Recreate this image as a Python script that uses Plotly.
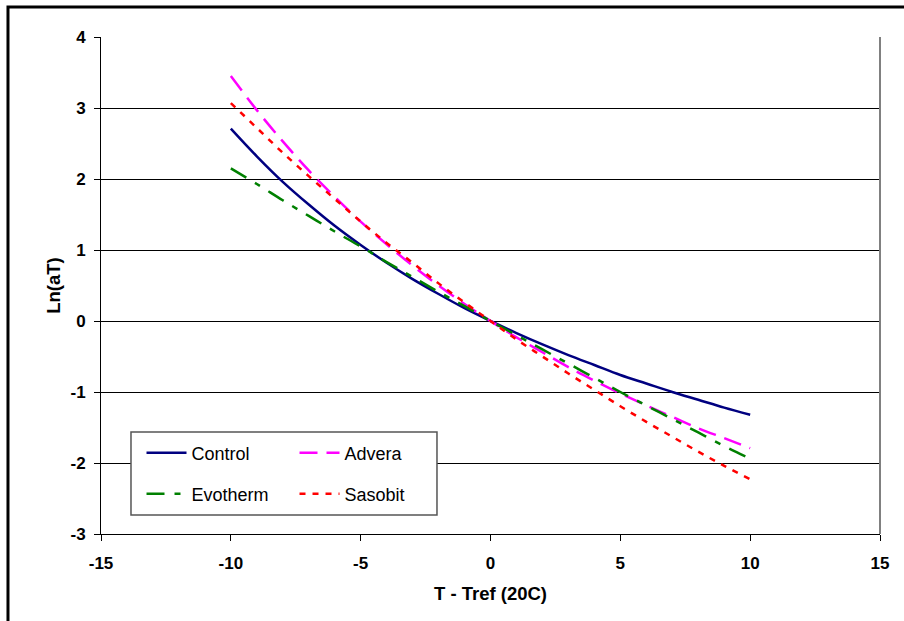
import plotly.graph_objects as go

# T - Tref (20C)
x_vals = [-10, -9, -8, -7, -6, -5, -4, -3, -2, -1, 0, 1, 2, 3, 4, 5, 6, 7, 8, 9, 10]

control = [2.71, 2.32, 1.96, 1.64, 1.34, 1.07, 0.82, 0.59, 0.38, 0.18, 0.0,
           -0.17, -0.33, -0.48, -0.62, -0.76, -0.88, -1.00, -1.11, -1.22, -1.32]
advera = [3.45, 2.97, 2.53, 2.12, 1.75, 1.40, 1.08, 0.78, 0.50, 0.24, 0.0,
          -0.23, -0.44, -0.65, -0.84, -1.02, -1.19, -1.35, -1.51, -1.65, -1.79]
evotherm = [2.15, 1.93, 1.70, 1.48, 1.26, 1.05, 0.83, 0.62, 0.41, 0.21, 0.0,
            -0.20, -0.40, -0.60, -0.80, -1.00, -1.19, -1.38, -1.57, -1.76, -1.94]
sasobit = [3.07, 2.72, 2.37, 2.04, 1.72, 1.40, 1.10, 0.82, 0.53, 0.26, 0.0,
           -0.26, -0.50, -0.74, -0.97, -1.20, -1.42, -1.63, -1.84, -2.04, -2.23]

x_ticks = [-15, -10, -5, 0, 5, 10, 15]
y_ticks = [-3, -2, -1, 0, 1, 2, 3, 4]

FONT = "Arial, Liberation Sans, sans-serif"

fig = go.Figure()
fig.add_trace(go.Scatter(x=x_vals, y=control, name="Control", mode="lines",
                         line=dict(color="#000080", width=2.5, shape="spline"),
                         legend="legend"))
fig.add_trace(go.Scatter(x=x_vals, y=advera, name="Advera", mode="lines",
                         line=dict(color="#FF00FF", width=2.5, dash="18px,9px", shape="spline"),
                         legend="legend"))
fig.add_trace(go.Scatter(x=x_vals, y=evotherm, name="Evotherm", mode="lines",
                         line=dict(color="#008000", width=2.5, dash="18px,10px,6px,10px", shape="spline"),
                         legend="legend2"))
fig.add_trace(go.Scatter(x=x_vals, y=sasobit, name="Sasobit", mode="lines",
                         line=dict(color="#FF0000", width=2.5, dash="6px,7px", shape="spline"),
                         legend="legend2"))

legend_common = dict(orientation="h", xanchor="left", yanchor="middle",
                     bgcolor="rgba(0,0,0,0)", borderwidth=0,
                     font=dict(family=FONT, size=18, color="black"),
                     entrywidth=98, itemwidth=40)

fig.update_layout(
    width=904, height=621,
    margin=dict(l=101, r=24, t=37, b=87),
    paper_bgcolor="white", plot_bgcolor="white",
    font=dict(family=FONT, color="black"),
    showlegend=True,
    legend=dict(x=0.052, y=0.163, **legend_common),
    legend2=dict(x=0.052, y=0.0805, **legend_common),
    xaxis=dict(range=[-15, 15], tickvals=x_ticks, ticktext=[str(v) for v in x_ticks],
               showgrid=False, zeroline=False, showline=True, linecolor="black", linewidth=1,
               ticks="outside", ticklen=6, tickcolor="black", ticklabelstandoff=8,
               tickfont=dict(family=FONT, size=17, color="black", weight="bold"),
               title=dict(text="<b>T - Tref (20C)</b>", font=dict(family=FONT, size=18.5), standoff=14)),
    yaxis=dict(range=[-3, 4], tickvals=y_ticks, ticktext=[str(v) for v in y_ticks],
               showgrid=True, gridcolor="black", gridwidth=1, zeroline=False,
               showline=True, linecolor="black", linewidth=1,
               ticks="outside", ticklen=6, tickcolor="black", ticklabelstandoff=5,
               tickfont=dict(family=FONT, size=17, color="black", weight="bold"),
               title=dict(text="<b>Ln(aT)</b>", font=dict(family=FONT, size=18.5), standoff=4)),
    shapes=[
        # right border of plot area
        dict(type="line", xref="paper", yref="paper", x0=1, x1=1, y0=0, y1=1,
             line=dict(color="#808080", width=2)),
        # legend box
        dict(type="rect", xref="paper", yref="paper", x0=0.0385, x1=0.4313, y0=0.0382, y1=0.2052,
             line=dict(color="#555555", width=1.5), fillcolor="white", layer="above"),
        # outer chart frame
        dict(type="rect", xref="paper", yref="paper", x0=-0.1194, x1=1.06, y0=-0.25, y1=1.0604,
             line=dict(color="black", width=3), fillcolor="rgba(0,0,0,0)", layer="above"),
    ],
)

fig.write_html("out.html", config={"displayModeBar": False},
               post_script="document.body.style.margin='0px';")
